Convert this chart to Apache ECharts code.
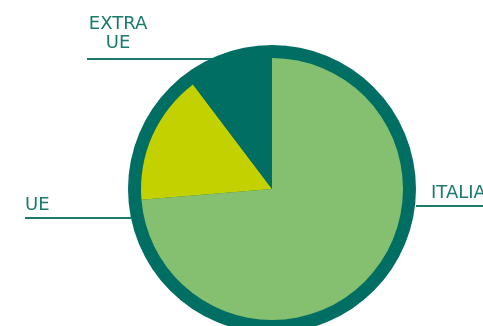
<!DOCTYPE html>
<html>
<head>
<meta charset="utf-8">
<script src="https://cdn.jsdelivr.net/npm/echarts@6/dist/echarts.min.js"></script>
<style>
  html, body { margin: 0; padding: 0; background: #fff; }
  #main { width: 483px; height: 326px; }
</style>
</head>
<body>
<div id="main"></div>
<script>
var categories = ['ITALIA', 'UE', 'EXTRA UE'];
var labelTexts = ['ITALIA', 'UE', 'EXTRA\nUE'];
var values = [73.7, 16.0, 10.3];
var colors = ['#84c06f', '#c3d100', '#006e62'];

var myChart = echarts.init(document.getElementById('main'));

// where each label sits and how its horizontal line runs
var labelSpots = [
    { x: 431, y: 203, align: 'left', line: [[416, 206], [483, 206]] },
    { x: 25, y: 215, align: 'left', line: [[25, 218], [131, 218]] },
    { x: 118, y: 53, align: 'center', line: [[87, 59], [213, 59]] }
];

var option = {
    animation: false,
    color: colors,
    series: [
        {
            // dark outer ring
            type: 'pie',
            silent: true,
            radius: [0, 144],
            center: [272, 189],
            label: { show: false },
            labelLine: { show: false },
            itemStyle: { color: '#006e62' },
            data: [{ value: 1, name: 'ring' }]
        },
        {
            name: 'provenienza',
            type: 'pie',
            radius: [0, 131],
            center: [272, 189],
            startAngle: 90,
            label: {
                show: true,
                formatter: function (params) {
                    return labelTexts[params.dataIndex];
                },
                color: '#1a7a6e',
                fontFamily: 'DejaVu Sans',
                fontSize: 18,
                lineHeight: 19
            },
            labelLine: {
                show: true,
                lineStyle: { color: '#1a7a6e', width: 2 }
            },
            labelLayout: function (params) {
                var s = labelSpots[params.dataIndex];
                return {
                    x: s.x,
                    y: s.y,
                    align: s.align,
                    verticalAlign: 'bottom',
                    labelLinePoints: [s.line[0], s.line[0], s.line[1]]
                };
            },
            data: categories.map(function (c, i) {
                return { name: c, value: values[i] };
            })
        }
    ]
};

myChart.setOption(option);
</script>
</body>
</html>
